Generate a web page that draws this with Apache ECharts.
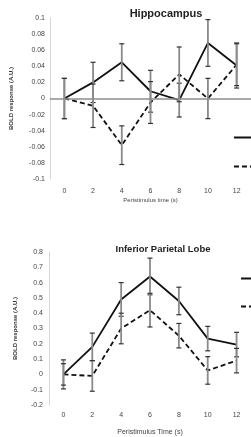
<!DOCTYPE html>
<html>
<head>
<meta charset="utf-8">
<script src="https://cdn.jsdelivr.net/npm/echarts@6/dist/echarts.min.js"></script>
<style>
  html, body { margin: 0; padding: 0; background: #fff; }
  #chart { width: 251px; height: 437px; }
</style>
</head>
<body>
<div id="chart"></div>
<script>
// peristimulus time points (s)
const times = ["0", "2", "4", "6", "8", "10", "12"];

// hippocampus: mean and error per time point
const hippoA = [0, 0.02, 0.045, 0.009, -0.002, 0.069, 0.041];
const hippoAErr = [0.025, 0.025, 0.023, 0.026, 0.021, 0.029, 0.028];
const hippoB = [0, -0.009, -0.058, -0.005, 0.03, 0, 0.042];
const hippoBErr = [0.025, 0.027, 0.024, 0.026, 0.034, 0.025, 0.026];

// inferior parietal lobe
const iplA = [0, 0.18, 0.49, 0.64, 0.48, 0.234, 0.195];
const iplAErr = [0.095, 0.09, 0.11, 0.12, 0.09, 0.08, 0.08];
const iplB = [0, -0.01, 0.3, 0.42, 0.253, 0.026, 0.09];
const iplBErr = [0.07, 0.1, 0.1, 0.11, 0.08, 0.09, 0.08];

const seriesNames = ["Condition 1", "Condition 2"];
const font = "Liberation Sans";

const errData = (vals, errs) => vals.map((v, i) => [i, v - errs[i], v + errs[i]]);

function renderErr(params, api) {
  const x = api.value(0);
  const lo = api.coord([x, api.value(1)]);
  const hi = api.coord([x, api.value(2)]);
  const w = 2.5;
  return {
    type: "group",
    children: [
      { type: "line", shape: { x1: lo[0], y1: lo[1], x2: hi[0], y2: hi[1] },
        style: { stroke: "#8a8a8a", lineWidth: 1.8 } },
      { type: "line", shape: { x1: lo[0] - w, y1: lo[1], x2: lo[0] + w, y2: lo[1] },
        style: { stroke: "#333", lineWidth: 1.2 } },
      { type: "line", shape: { x1: hi[0] - w, y1: hi[1], x2: hi[0] + w, y2: hi[1] },
        style: { stroke: "#333", lineWidth: 1.2 } },
    ],
  };
}

function lineSeries(name, data, idx, dashed) {
  return {
    name: name,
    type: "line",
    xAxisIndex: idx,
    yAxisIndex: idx,
    data: data,
    symbol: "none",
    lineStyle: { color: "#111", width: 1.8, type: dashed ? [5, 3] : "solid" },
    itemStyle: { color: "#111" },
    z: 3,
  };
}

function errSeries(vals, errs, idx) {
  return {
    type: "custom",
    xAxisIndex: idx,
    yAxisIndex: idx,
    renderItem: renderErr,
    data: errData(vals, errs),
    z: 4,
  };
}

const axisText = { color: "#444", fontFamily: font, fontSize: 7 };
const legendBase = {
  data: seriesNames, orient: "vertical", itemWidth: 25, itemHeight: 8,
  itemStyle: { opacity: 0 },
  textStyle: { fontSize: 7, fontFamily: font },
};

const chart = echarts.init(document.getElementById("chart"));
chart.setOption({
  animation: false,
  title: [
    { text: "Hippocampus", left: 161, top: 3, textAlign: "center",
      textStyle: { fontFamily: font, fontSize: 11, fontWeight: "bold", color: "#222" } },
    { text: "Inferior Parietal Lobe", left: 158, top: 239, textAlign: "center",
      textStyle: { fontFamily: font, fontSize: 9.5, fontWeight: "bold", color: "#222" } },
  ],
  legend: [
    Object.assign({ left: 228, top: 129, itemGap: 22 }, legendBase),
    Object.assign({ left: 235, top: 270, itemGap: 21 }, legendBase),
  ],
  grid: [
    { left: 48, top: 18, width: 213, height: 161 },
    { left: 49, top: 252, width: 231, height: 154 },
  ],
  xAxis: [
    {
      type: "category", gridIndex: 0, data: times,
      axisLine: { show: false, onZero: false }, axisTick: { show: false },
      axisLabel: Object.assign({ margin: 9, interval: 0 }, axisText),
      name: "Peristimulus time (s)", nameLocation: "middle", nameGap: 18,
      nameTextStyle: { color: "#444", fontFamily: font, fontSize: 6 },
    },
    {
      type: "category", gridIndex: 1, data: times,
      axisLine: { show: false, onZero: false }, axisTick: { show: false },
      axisLabel: Object.assign({ margin: 7, interval: 0 }, axisText),
      name: "Peristimulus Time (s)", nameLocation: "middle", nameGap: 24,
      nameTextStyle: { color: "#444", fontFamily: font, fontSize: 7 },
    },
  ],
  yAxis: [
    {
      type: "value", gridIndex: 0, min: -0.1, max: 0.1, interval: 0.02,
      axisLine: { show: true, lineStyle: { color: "#d6d6d6", width: 1 } },
      axisTick: { show: false }, splitLine: { show: false },
      axisLabel: Object.assign({ margin: 5, formatter: (v) => String(+v.toFixed(2)) }, axisText),
      name: "BOLD response (A.U.)", nameLocation: "middle", nameGap: 36,
      nameTextStyle: { color: "#333", fontFamily: font, fontSize: 6, fontWeight: "bold" },
    },
    {
      type: "value", gridIndex: 1, min: -0.2, max: 0.8, interval: 0.1,
      axisLine: { show: true, lineStyle: { color: "#d6d6d6", width: 1 } },
      axisTick: { show: false }, splitLine: { show: false },
      axisLabel: Object.assign({ margin: 6, formatter: (v) => String(+v.toFixed(1)) }, axisText),
      name: "BOLD response (A.U.)", nameLocation: "middle", nameGap: 31,
      nameTextStyle: { color: "#333", fontFamily: font, fontSize: 6, fontWeight: "bold" },
    },
  ],
  series: [
    Object.assign(lineSeries(seriesNames[0], hippoA, 0, false), {
      markLine: {
        silent: true, symbol: "none", label: { show: false },
        lineStyle: { color: "#8c8c8c", width: 1.5, type: "solid" },
        data: [{ yAxis: 0 }],
      },
    }),
    lineSeries(seriesNames[1], hippoB, 0, true),
    errSeries(hippoA, hippoAErr, 0),
    errSeries(hippoB, hippoBErr, 0),
    lineSeries(seriesNames[0], iplA, 1, false),
    lineSeries(seriesNames[1], iplB, 1, true),
    errSeries(iplA, iplAErr, 1),
    errSeries(iplB, iplBErr, 1),
  ],
});
</script>
</body>
</html>
